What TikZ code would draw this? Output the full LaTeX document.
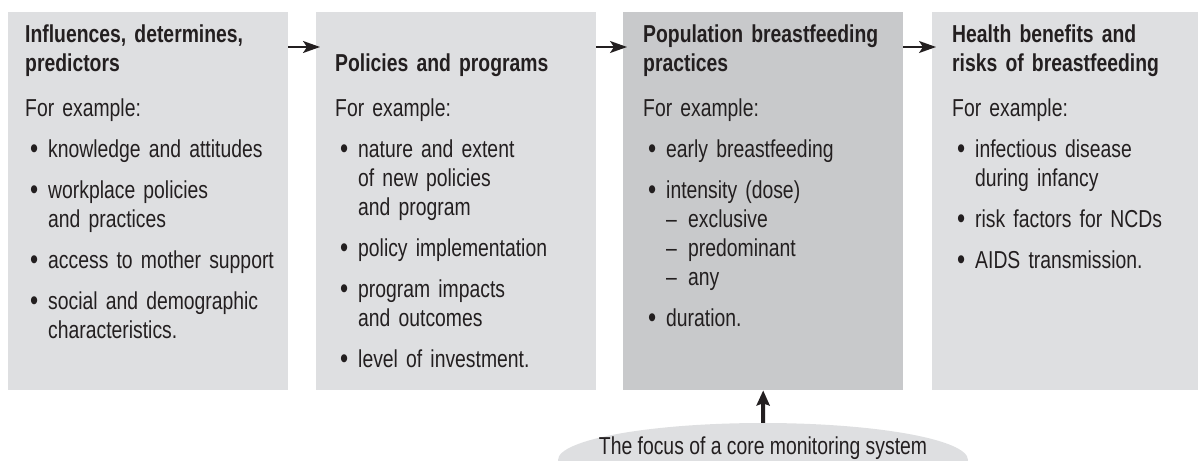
\documentclass[tikz,border=0pt]{standalone}
\usepackage{fontspec}
\setmainfont{Liberation Sans}[FakeStretch=0.79]
\usetikzlibrary{arrows.meta,shapes.geometric}
\definecolor{panelgray}{HTML}{DEDFE1}
\definecolor{focusgray}{HTML}{C8C9CB}
\definecolor{ink}{HTML}{231F20}
\setlength{\parindent}{0pt}
% bullet item and dash sub-item
\newcommand{\bitem}{\par\vspace{12pt}\hangindent=23pt\hangafter=0\leavevmode
  \llap{\raisebox{-0.06em}{\scalebox{1.2}{\textbullet}}\hspace{10pt}}}
\newcommand{\sitem}[1]{\newline\makebox[22pt][l]{--}#1}
\tikzset{
  panel/.style={rectangle, fill=panelgray, anchor=north west,
    minimum width=280pt, minimum height=378pt, inner sep=0pt},
  paneltext/.style={anchor=base west, text width=255pt,
    inner sep=0pt, text=ink, font=\fontsize{24.5}{29}\selectfont},
  flow/.style={draw=ink, line width=2pt, shorten >=-4pt,
    -{Stealth[length=17pt,width=12pt,inset=4pt]}},
  focusarrow/.style={draw=ink, line width=4pt,
    -{Stealth[length=15pt,width=13pt,inset=2pt]}},
  focus/.style={ellipse, fill=panelgray, minimum width=410pt,
    minimum height=74pt, inner sep=0pt}
}
\begin{document}
\begin{tikzpicture}[x=1pt,y=-1pt]
\useasboundingbox (0,0) rectangle (1198,460);
% the four panels
\node[panel] (infl) at (8,12) {};
\node[panel] (prog) at (316,12) {};
\node[panel, fill=focusgray] (prac) at (623,12) {};
\node[panel, minimum width=266pt] (health) at (932,12) {};
% panel texts
\node[paneltext] (infltext) at ([xshift=17pt,yshift=-30pt]infl.north west)
  {\textbf{Influences, determines,\newline predictors}\par\vspace{16pt}For example:%
   \bitem knowledge and attitudes%
   \bitem workplace policies\newline and practices%
   \bitem access to mother support%
   \bitem social and demographic\newline characteristics.\par};
\node[paneltext] (progtext) at ([xshift=19pt,yshift=-30pt]prog.north west)
  {\mbox{}\newline\textbf{Policies and programs}\par\vspace{16pt}For example:%
   \bitem nature and extent\newline of new policies\newline and program%
   \bitem policy implementation%
   \bitem program impacts\newline and outcomes%
   \bitem level of investment.\par};
\node[paneltext] (practext) at ([xshift=20pt,yshift=-30pt]prac.north west)
  {\textbf{Population breastfeeding\newline practices}\par\vspace{16pt}For example:%
   \bitem early breastfeeding%
   \bitem intensity (dose)\sitem{exclusive}\sitem{predominant}\sitem{any}%
   \bitem duration.\par};
\node[paneltext, text width=240pt] (healthtext) at ([xshift=20pt,yshift=-30pt]health.north west)
  {\textbf{Health benefits and\newline risks of breastfeeding}\par\vspace{16pt}For example:%
   \bitem infectious disease\newline during infancy%
   \bitem risk factors for NCDs%
   \bitem AIDS transmission.\par};
% monitoring focus
\node[focus] (focus) at (763,460) {};
\node[anchor=base, inner sep=0pt, text=ink, font=\fontsize{24.5}{29}\selectfont]
  (focustext) at (763,454) {The focus of a core monitoring system};
% arrows
\draw[flow] ([yshift=-35pt]infl.north east) -- ([yshift=-35pt]prog.north west);
\draw[flow] ([yshift=-35pt]prog.north east) -- ([yshift=-35pt]prac.north west);
\draw[flow] ([yshift=-35pt]prac.north east) -- ([yshift=-35pt]health.north west);
\draw[focusarrow] (focus.north) -- (prac.south);
\end{tikzpicture}
\end{document}
